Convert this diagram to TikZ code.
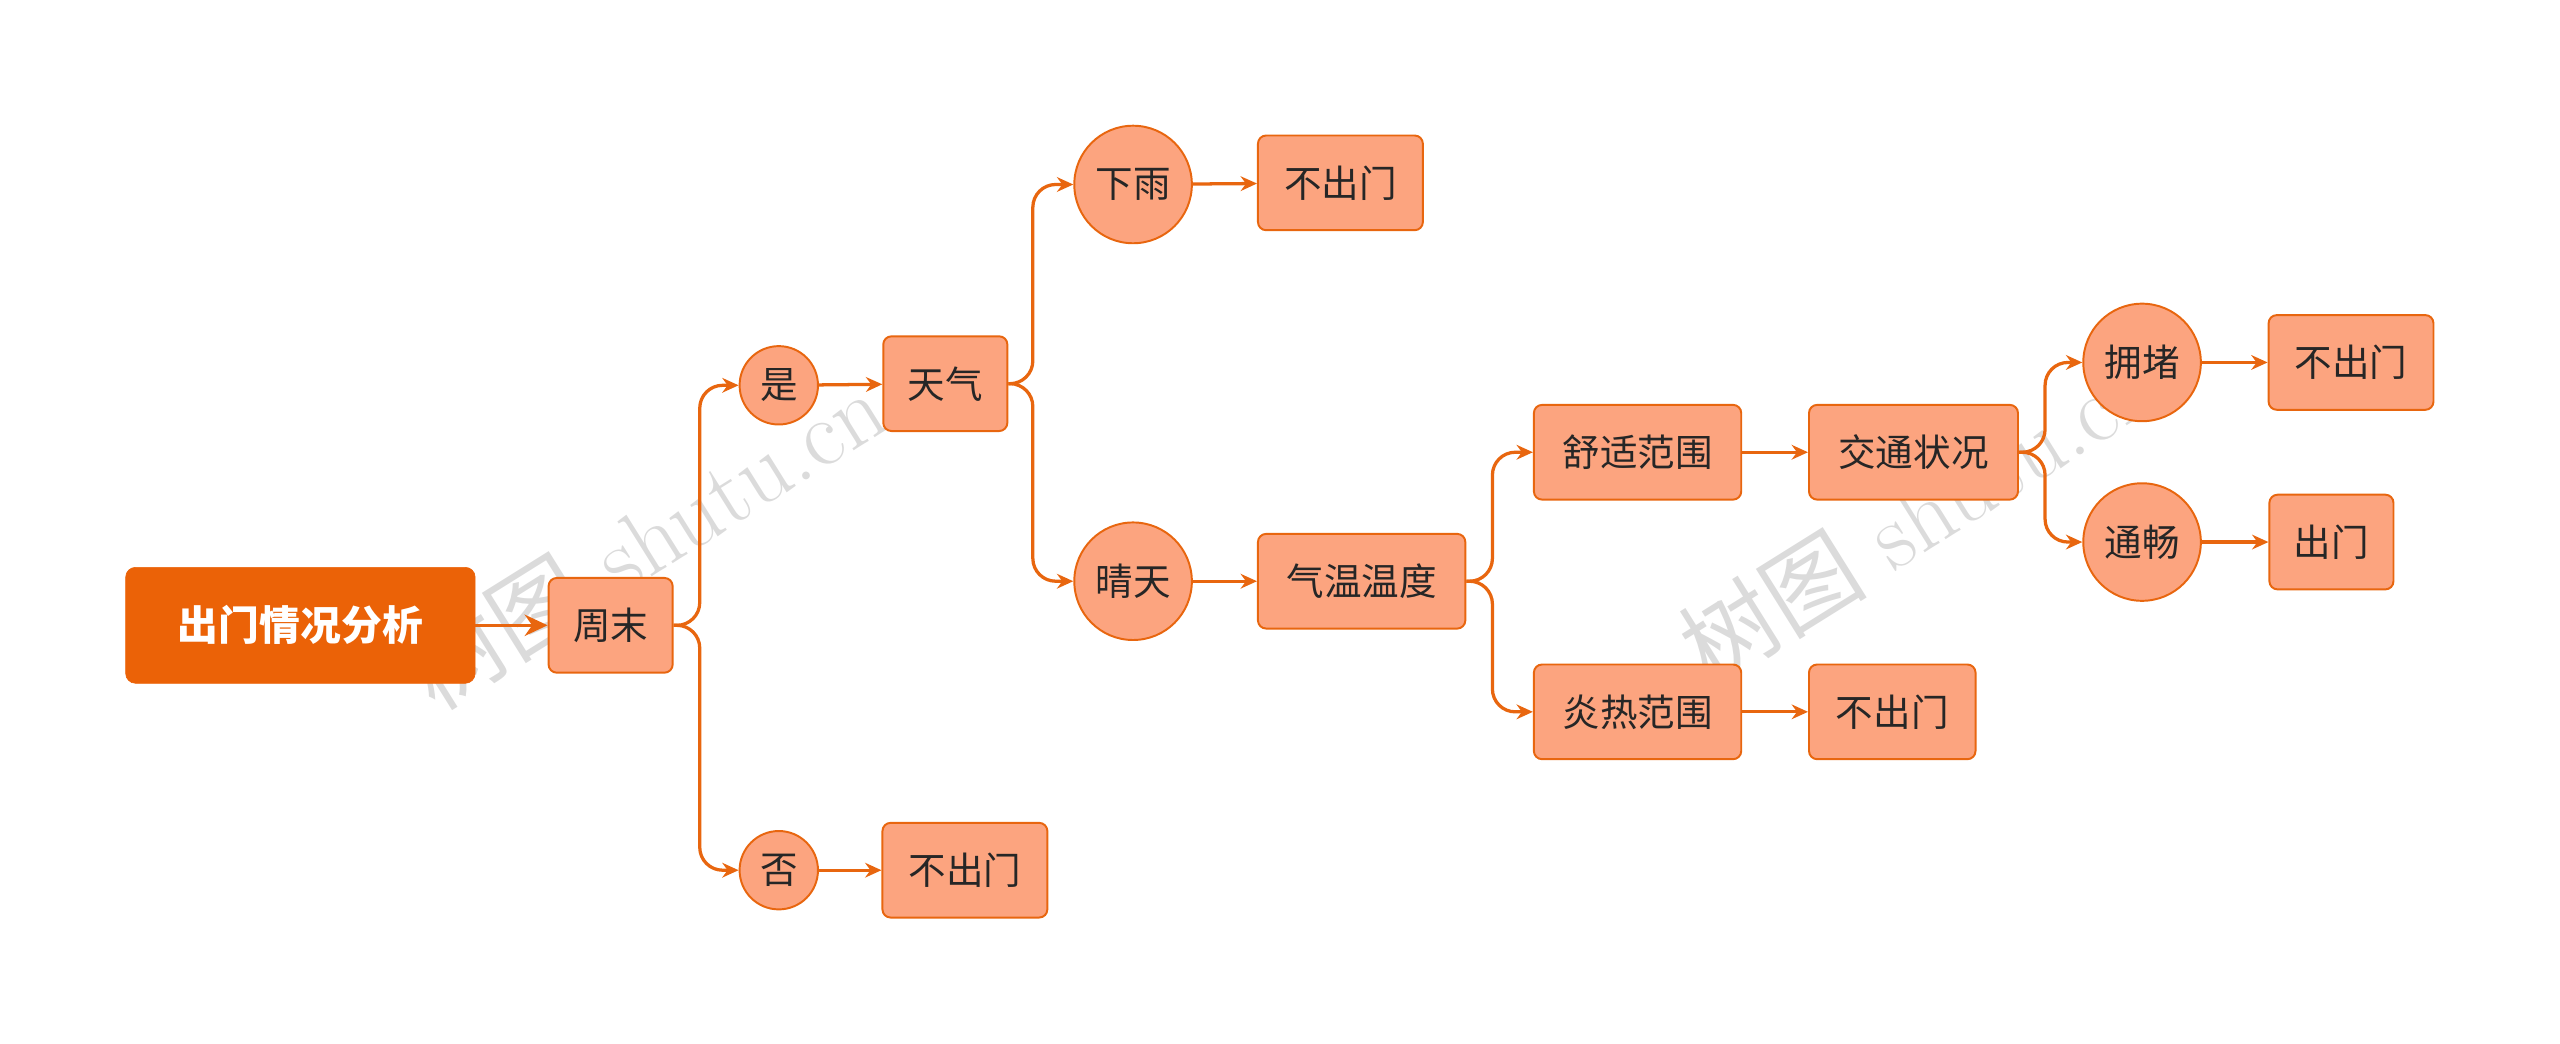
\documentclass[tikz,border=0pt]{standalone}
\usepackage{fontspec}
\newfontfamily\cjk{Noto Sans CJK SC}
\definecolor{lnc}{HTML}{E8660F}
\definecolor{nfill}{HTML}{FCA47F}
\definecolor{rootc}{HTML}{EB6207}
\usetikzlibrary{arrows.meta}
\begin{document}
\begin{tikzpicture}[x=1pt,y=-1pt,
  box/.style={draw=lnc,fill=nfill,line width=1.2pt,rounded corners=5pt,minimum height=58pt,inner xsep=10pt,font=\cjk\fontsize{23}{26}\selectfont,text=black!85},
  circ/.style={draw=lnc,fill=nfill,line width=1.2pt,circle,inner sep=0pt,font=\cjk\fontsize{23}{26}\selectfont,text=black!85},
  conn/.style={draw=lnc,line width=2pt,-{Stealth[length=10pt,width=9pt]}},
  br/.style={conn,rounded corners=14pt},
  wm/.style={font=\fontsize{58}{62}\selectfont,text=black!14,rotate=32}]
\useasboundingbox (0,0) rectangle (1568,639);
\node[wm] at (395,330) {{\cjk 树图} shutu.cn};
\node[wm] at (1175,315) {{\cjk 树图} shutu.cn};
\node[draw=rootc,fill=rootc,rounded corners=6pt,minimum width=214pt,minimum height=71pt,font=\cjk\bfseries\fontsize{25}{28}\selectfont,text=white] (root) at (184,383) {出门情况分析};
\node[box,minimum width=76pt] (zm) at (374,383) {周末};
\node[circ,minimum size=48pt] (shi) at (477,236) {是};
\node[circ,minimum size=48pt] (fou) at (477,533) {否};
\node[box,minimum width=76pt] (tq) at (579,235) {天气};
\node[box,minimum width=101pt] (n1) at (591,533) {不出门};
\node[circ,minimum size=72pt] (xy) at (694,113) {下雨};
\node[circ,minimum size=72pt] (qt) at (694,356) {晴天};
\node[box,minimum width=101pt] (n2) at (821,112) {不出门};
\node[box,minimum width=127pt] (qw) at (834,356) {气温温度};
\node[box,minimum width=127pt] (ss) at (1003,277) {舒适范围};
\node[box,minimum width=127pt] (yr) at (1003,436) {炎热范围};
\node[box,minimum width=128pt] (jt) at (1172,277) {交通状况};
\node[box,minimum width=102pt] (n3) at (1159,436) {不出门};
\node[circ,minimum size=72pt] (yd) at (1312,222) {拥堵};
\node[circ,minimum size=72pt] (tc) at (1312,332) {通畅};
\node[box,minimum width=101pt] (n4) at (1440,222) {不出门};
\node[box,minimum width=76pt] (cm) at (1428,332) {出门};
\draw[conn,-{Stealth[length=14pt,width=13pt]}] (root) -- (zm);
\draw[br] (zm.east) -- ++(16,0) |- (shi.west);
\draw[br] (zm.east) -- ++(16,0) |- (fou.west);
\draw[conn] (shi) -- (tq);
\draw[conn] (fou) -- (n1);
\draw[br] (tq.east) -- ++(15,0) |- (xy.west);
\draw[br] (tq.east) -- ++(15,0) |- (qt.west);
\draw[conn] (xy) -- (n2);
\draw[conn] (qt) -- (qw);
\draw[br] (qw.east) -- ++(16,0) |- (ss.west);
\draw[br] (qw.east) -- ++(16,0) |- (yr.west);
\draw[conn] (ss) -- (jt);
\draw[conn] (yr) -- (n3);
\draw[br] (jt.east) -- ++(16,0) |- (yd.west);
\draw[br] (jt.east) -- ++(16,0) |- (tc.west);
\draw[conn] (yd) -- (n4);
\draw[conn] (tc) -- (cm);
\end{tikzpicture}
\end{document}
